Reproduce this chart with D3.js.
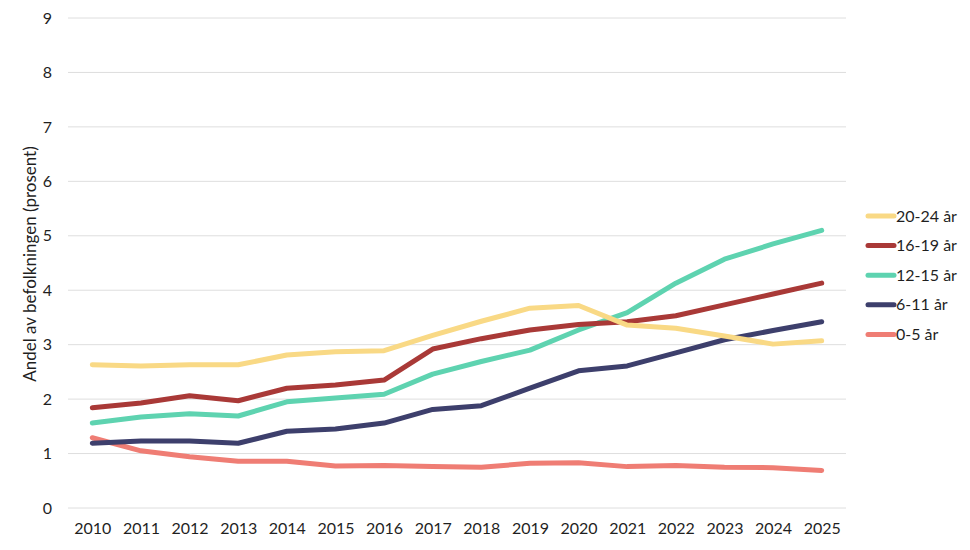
<!DOCTYPE html>
<html>
<head>
<meta charset="utf-8">
<script src="https://cdn.jsdelivr.net/npm/d3@7"></script>
<style>
 body { margin:0; background:#fff; }
 text { font-family: Lato, "Open Sans", sans-serif; fill:#1f1f1f; }
</style>
</head>
<body>
<script>
 var years = [2010,2011,2012,2013,2014,2015,2016,2017,2018,2019,2020,2021,2022,2023,2024,2025];
 var yTicks = [0,1,2,3,4,5,6,7,8,9];

 var age2024 = [2.63,2.61,2.63,2.63,2.81,2.87,2.89,3.17,3.43,3.67,3.72,3.36,3.30,3.16,3.01,3.07];
 var age1619 = [1.84,1.93,2.06,1.97,2.20,2.26,2.35,2.92,3.11,3.27,3.37,3.42,3.53,3.73,3.93,4.13];
 var age1215 = [1.56,1.67,1.73,1.69,1.95,2.02,2.09,2.46,2.69,2.90,3.27,3.59,4.13,4.57,4.85,5.10];
 var age611  = [1.19,1.23,1.23,1.19,1.41,1.45,1.56,1.81,1.88,2.20,2.52,2.61,2.85,3.09,3.26,3.42];
 var age05   = [1.29,1.05,0.94,0.86,0.86,0.77,0.78,0.76,0.75,0.82,0.83,0.76,0.78,0.75,0.74,0.69];

 var seriesNames = ["20-24 år","16-19 år","12-15 år","6-11 år","0-5 år"];
 var seriesColors = ["#f9d985","#a93937","#5ed3b0","#3d3f6c","#ef7d74"];
 var seriesValues = [age2024, age1619, age1215, age611, age05];

 var width = 970, height = 550;
 var svg = d3.select("body").append("svg")
     .attr("width", width)
     .attr("height", height);

 var x = d3.scalePoint().domain(years).range([68, 846]).padding(0.5);
 var y = d3.scaleLinear().domain([0, 9]).range([508, 18]);

 // gridlines
 svg.append("g")
    .selectAll("line")
    .data(yTicks)
    .enter().append("line")
    .attr("x1", 68).attr("x2", 846)
    .attr("y1", function(d){ return y(d); })
    .attr("y2", function(d){ return y(d); })
    .attr("stroke", "#dedede")
    .attr("stroke-width", 1);

 var yAxis = svg.append("g")
    .attr("transform", "translate(56,0)")
    .call(d3.axisLeft(y).tickValues(yTicks).tickSize(0).tickPadding(0));
 yAxis.select(".domain").remove();
 yAxis.selectAll("text").style("font-size", "16px").attr("dx", "-4");

 var xAxis = svg.append("g")
    .attr("transform", "translate(0,508)")
    .call(d3.axisBottom(x).tickSize(0).tickPadding(15));
 xAxis.select(".domain").remove();
 xAxis.selectAll("text").style("font-size", "16px");

 svg.append("text")
    .attr("transform", "translate(36,264) rotate(-90)")
    .attr("text-anchor", "middle")
    .style("font-size", "17px")
    .text("Andel av befolkningen (prosent)");

 var line = d3.line()
    .x(function(d, i){ return x(years[i]); })
    .y(function(d){ return y(d); });

 // draw lower series first, so 20-24 ends up on top like the original
 for (var s = seriesValues.length - 1; s >= 0; s--) {
   svg.append("path")
      .attr("d", line(seriesValues[s]))
      .attr("fill", "none")
      .attr("stroke", seriesColors[s])
      .attr("stroke-width", 5)
      .attr("stroke-linejoin", "round")
      .attr("stroke-linecap", "round");
 }

 var legend = svg.append("g").selectAll("g")
    .data(seriesNames)
    .enter().append("g")
    .attr("transform", function(d, i){ return "translate(868," + (216 + i * 29.6) + ")"; });
 legend.append("line")
    .attr("x1", 0).attr("x2", 26)
    .attr("stroke", function(d, i){ return seriesColors[i]; })
    .attr("stroke-width", 5)
    .attr("stroke-linecap", "round");
 legend.append("text")
    .attr("x", 28)
    .attr("dy", "0.35em")
    .style("font-size", "16px")
    .text(function(d){ return d; });
</script>
</body>
</html>
